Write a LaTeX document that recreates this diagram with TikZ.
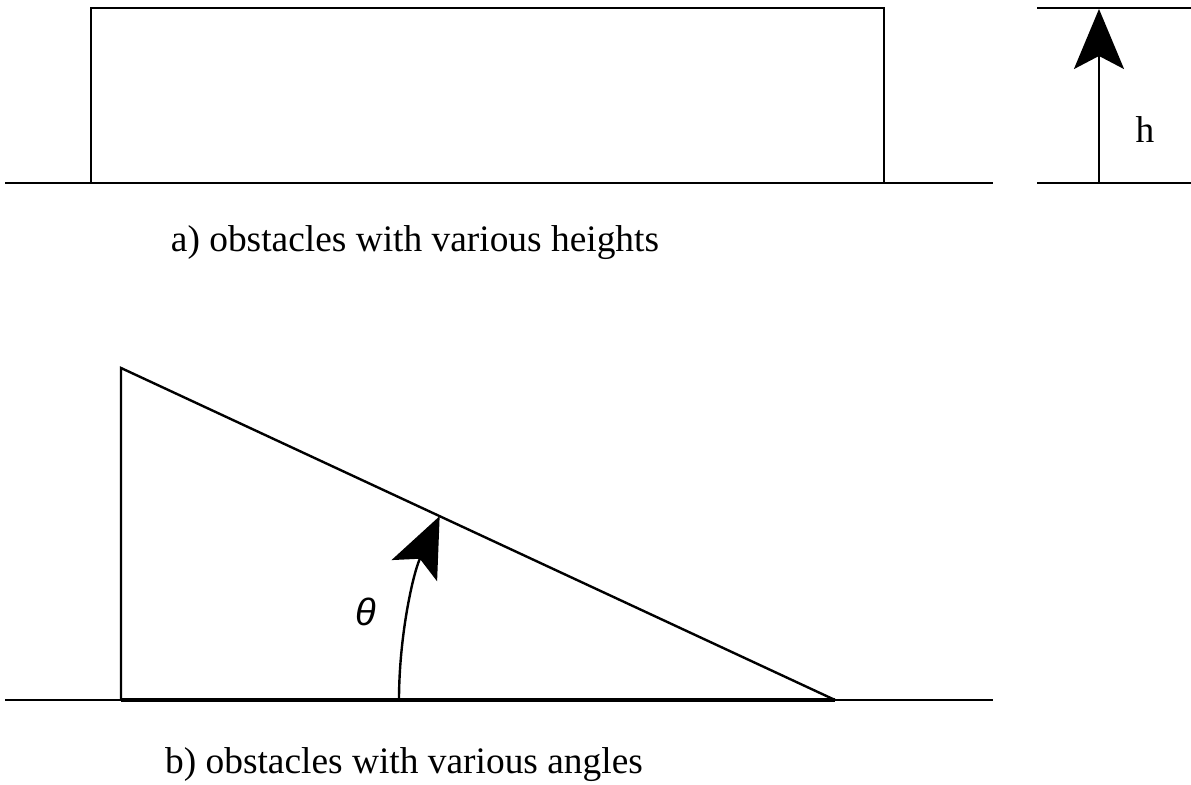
\documentclass[tikz,border=0pt]{standalone}
\usepackage{fontspec}
\setmainfont{Liberation Serif}
\newfontfamily\thetafont{Liberation Sans}
\usetikzlibrary{arrows.meta}

\begin{document}
\begin{tikzpicture}[x=0.5pt,y=0.5pt,line width=1.2pt,
  bigarrow/.style={-{Stealth[length=30pt,width=25pt,inset=6.5pt]}},
  caption/.style={font=\fontsize{18.7}{22}\selectfont}]
  \useasboundingbox (0,0) rectangle (1191,785);
  % Ground line (heights)
  \draw (5,602) -- (993,602);
  % Rectangular obstacle
  \draw (91,602) -- (91,777) -- (884,777) -- (884,602);
  % Height marker
  \draw (1037,777) -- (1191,777);
  \draw (1037,602) -- (1191,602);
  \coordinate (hbase) at (1099,602);
  \coordinate (htop) at (1099,776);
  \draw[bigarrow] (hbase) -- (htop);
  \node[caption] (hlabel) at (1145,655) {h};
  \node[caption] (capa) at (415,542) {a) obstacles with various heights};
  % Ground line (angles)
  \draw (5,85) -- (993,85);
  \draw[line width=2.4pt] (121,85) -- (835,85);
  % Wedge obstacle
  \draw (121,85) -- (121,417) -- (835,85);
  % Angle arc
  \coordinate (arcstart) at (399,85);
  \draw[bigarrow] (arcstart) arc[start angle=180,end angle=155.06,radius=436];
  \node[font=\thetafont\itshape\fontsize{19}{22}\selectfont] (theta) at (366,173) {θ};
  \node[caption] (capb) at (404,20) {b) obstacles with various angles};
\end{tikzpicture}
\end{document}
